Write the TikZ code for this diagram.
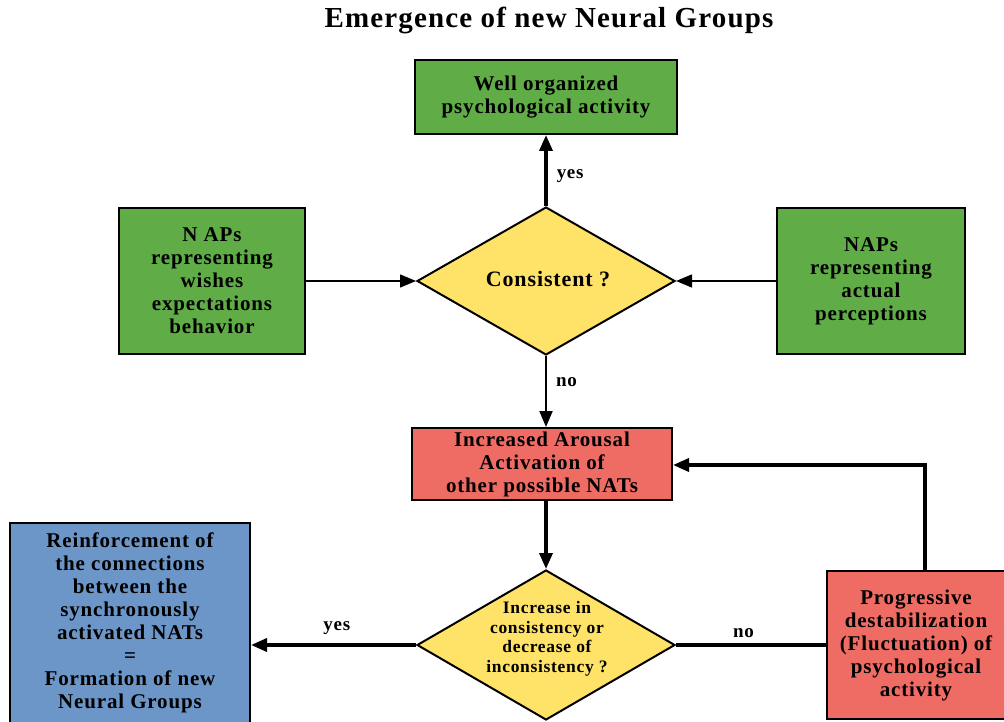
\documentclass[tikz,border=0pt]{standalone}
\usepackage{fontspec}
\setmainfont[LetterSpace=4]{Liberation Serif}
\usetikzlibrary{shapes.geometric,arrows.meta}
\definecolor{boxgreen}{RGB}{96,173,71}
\definecolor{boxyellow}{RGB}{255,226,104}
\definecolor{boxred}{RGB}{239,108,100}
\definecolor{boxblue}{RGB}{108,150,200}
\tikzset{
  box/.style={draw=black, line width=2pt, rectangle, align=center, inner sep=2pt,
    font=\fontsize{21}{23}\selectfont\bfseries},
  decision/.style={draw=black, line width=2pt, diamond, inner sep=0pt,
    fill=boxyellow},
  thickarrow/.style={line width=3.5pt, -{Triangle[length=16pt,width=13pt]}},
  thinarrow/.style={line width=1.5pt, -{Triangle[length=16pt,width=13pt]}},
  thickline/.style={line width=3.5pt},
  lbl/.style={font=\fontsize{19}{20}\selectfont\bfseries, inner sep=1pt}
}
\begin{document}
\begin{tikzpicture}[x=1pt, y=-1pt]
\useasboundingbox (0,0) rectangle (1004,722);
\fill[white] (0,0) rectangle (1004,722);

\node[font=\fontsize{29}{32}\selectfont\bfseries] (title) at (549,20) {Emergence of new Neural Groups};

\node[box, fill=boxgreen, minimum width=262pt, minimum height=74pt] (well) at (546,97)
  {Well organized\\psychological activity};

% decision diamonds, with their questions set on top
\node[decision, minimum width=258pt, minimum height=148pt] (cons) at (546,281) {};
\node[font=\fontsize{22}{24}\selectfont\bfseries, inner sep=0pt] (constext) at (548,279) {Consistent ?};
\node[decision, minimum width=258pt, minimum height=150pt] (incr) at (546,645) {};
\node[font=\fontsize{17.5}{19.5}\selectfont\bfseries, align=center, inner sep=0pt] (incrtext) at (547,639)
  {Increase in\\consistency or\\decrease of\\inconsistency ?};

\node[box, fill=boxgreen, minimum width=186pt, minimum height=145pt] (wish) at (212,281)
  {N APs\\representing\\wishes\\expectations\\behavior};
\node[box, fill=boxgreen, minimum width=188pt, minimum height=145pt] (perc) at (871,281)
  {NAPs\\representing\\actual\\perceptions};
\node[box, fill=boxred, minimum width=260pt, minimum height=72pt] (arousal) at (542,464)
  {Increased Arousal\\Activation of\\other possible NATs};
\node[box, fill=boxblue, minimum width=240pt, minimum height=200pt] (reinf) at (130,623)
  {Reinforcement of\\the connections\\between the\\synchronously\\activated NATs\\=\\Formation of new\\Neural Groups};
\node[box, fill=boxred, minimum width=178pt, minimum height=148pt] (prog) at (916,645)
  {Progressive\\destabilization\\(Fluctuation) of\\psychological\\activity};

% connectors
\draw[thickarrow] (cons.north) -- node[lbl, right=8pt, pos=0.42] {yes} (cons.north |- well.south);
\draw[thinarrow] (wish.east) -- (cons.west);
\draw[thinarrow] (perc.west) -- (cons.east);
\draw[line width=2pt, -{Triangle[length=16pt,width=13pt]}] (cons.south) -- node[lbl, right=8pt, pos=0.37] {no} (cons.south |- arousal.north);
\draw[thickarrow] (incr.north |- arousal.south) -- (incr.north);
\draw[thickarrow] (incr.west) -- node[lbl, above=8pt, pos=0.48] {yes} (reinf.east |- incr.west);
\draw[thickline] (incr.east) -- node[lbl, above=5pt, pos=0.45] {no} (prog.west |- incr.east);
\coordinate (corner) at (925,465);
\draw[thickarrow] (corner |- prog.north) -- (corner) -- (arousal.east |- corner);
\end{tikzpicture}
\end{document}
